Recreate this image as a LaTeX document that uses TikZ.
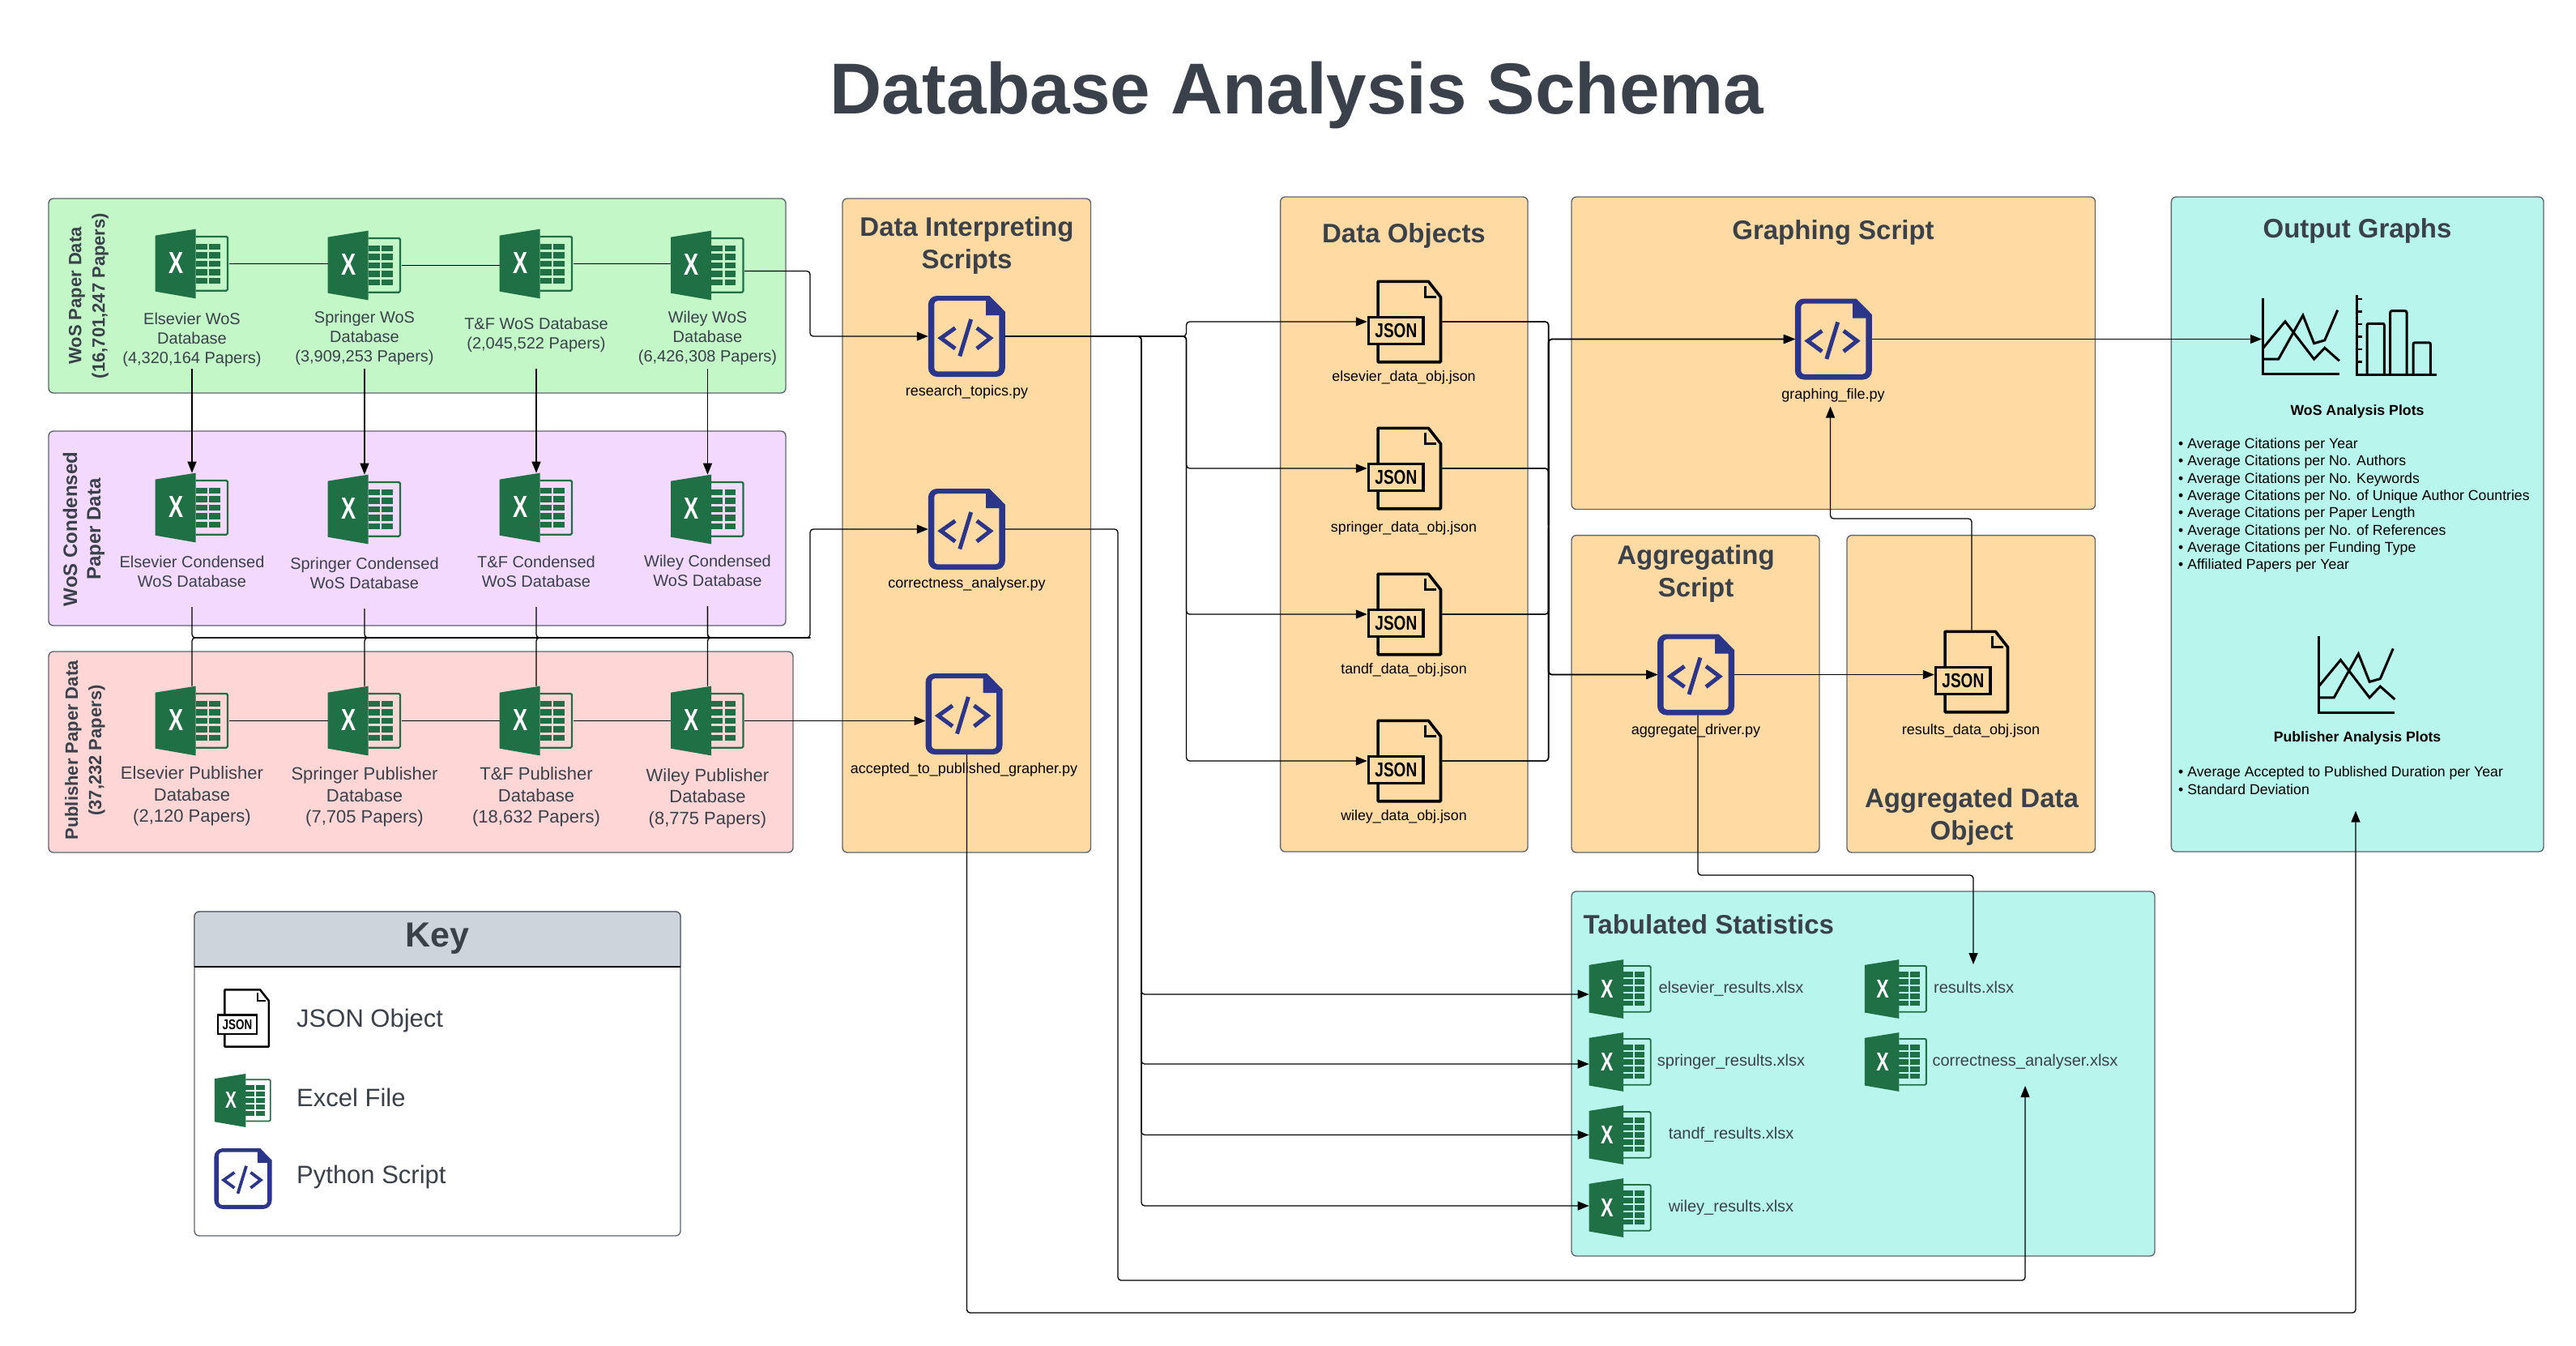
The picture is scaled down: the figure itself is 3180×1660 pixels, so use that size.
\documentclass[tikz,border=0pt]{standalone}
\usepackage{fontspec}
\setmainfont{Liberation Sans}
\usetikzlibrary{arrows.meta}
\definecolor{txt}{HTML}{3A414A}
\definecolor{grn}{HTML}{C3F7C8}
\definecolor{pur}{HTML}{F2D9FD}
\definecolor{pnk}{HTML}{FFD6D6}
\definecolor{org}{HTML}{FFDBA3}
\definecolor{teal}{HTML}{B8F5ED}
\definecolor{hdr}{HTML}{CED4DB}
\definecolor{xlg}{HTML}{1F7044}
\definecolor{pyb}{HTML}{2B3589}
\definecolor{bord}{HTML}{5E6670}
\tikzset{
 panel/.style={draw=bord,line width=1.4pt,rounded corners=6pt},
 conn/.style={draw=black,line width=1.3pt,rounded corners=4pt},
 arr/.style={conn,-{Triangle[length=14pt,width=11pt]}},
 iconbox/.style={inner sep=0pt,outer sep=0pt},
 t/.style={text=txt,align=center,inner sep=0pt,yshift=-2.5pt,font=\fontsize{#1}{\dimexpr#1pt*12/10\relax}\selectfont},
 tb/.style={text=black,align=center,inner sep=0pt,yshift=-2.5pt,font=\fontsize{#1}{\dimexpr#1pt*12/10\relax}\selectfont},
 head/.style={text=txt,align=center,inner sep=0pt,yshift=-2.5pt,font=\bfseries\fontsize{#1}{40}\selectfont},
 side/.style={text=txt,align=center,inner sep=0pt,rotate=90,yshift=-3pt,font=\bfseries\fontsize{#1}{29}\selectfont},
 blist/.style={text=black,align=left,anchor=west,inner sep=0pt,yshift=-1pt,font=\fontsize{17.7}{21.35}\selectfont},
}
\newcommand{\xlicon}[4]{%
 \node[iconbox,minimum width=#4*91pt,minimum height=#4*85.7pt] (#1) at (#2,#3) {};
 \begin{scope}[shift={(#1.north west)},scale=#4]
  \fill[xlg] (0,8)--(50,0)--(50,85.7)--(0,77)--cycle;
  \draw[xlg,line width=#4*2.2pt,rounded corners=1.5pt] (50,9.3)--(89.5,9.3)--(89.5,76)--(50,76);
  \foreach \ya/\yb in {18/25.6,28.3/36,39/46.6,49.6/57.3,60/67.3}{
   \fill[xlg] (50,\ya) rectangle (64,\yb);
   \fill[xlg] (66.5,\ya) rectangle (80,\yb);
  }
  \node[transform shape,inner sep=0pt,text=white,xscale=.72,font=\bfseries\fontsize{37.7}{38}\selectfont] (#1x) at (26,42.3) {X};
 \end{scope}}
\newcommand{\pyicon}[4]{%
 \node[iconbox,minimum width=#4*95pt,minimum height=#4*100pt] (#1) at (#2,#3) {};
 \begin{scope}[shift={(#1.north west)},scale=#4]
  \fill[pyb,even odd rule] (0,50) [rounded corners=11pt] -- (0,0) -- (60,0) [sharp corners] -- (75.6,0) -- (95,19.6) -- (95,50) [rounded corners=11pt] -- (95,100) -- (0,100) -- cycle
   [sharp corners] (7.5,50) [rounded corners=4pt] -- (7.5,6.2) [sharp corners] -- (71.2,6.2) -- (71.2,24.1) -- (87.5,24.1) [rounded corners=4pt] -- (87.5,93.3) -- (7.5,93.3) -- cycle;
  \draw[pyb,line width=#4*5pt] (33.4,39.7)--(15.7,52.2)--(33.4,65.2);
  \draw[pyb,line width=#4*5pt] (60,39.7)--(76.7,52.2)--(60,65.2);
  \draw[pyb,line width=#4*5pt] (52.9,29)--(39,74.5);
 \end{scope}}
\newcommand{\jsicon}[4]{%
 \node[iconbox,minimum width=#4*92.5pt,minimum height=#4*103pt] (#1) at (#2,#3) {};
 \begin{scope}[shift={(#1.north west)},scale=#4]
  \draw[black,line width=#4*3.6pt,line join=round] (13.4,45)--(13.4,1.8)--(75.6,1.8)--(90.7,21)--(90.7,101.2)--(13.4,101.2)--(13.4,80);
  \draw[black,line width=#4*3.6pt] (1.8,46)rectangle(69.5,79);
  \draw[black,line width=#4*2.8pt] (71.5,7)--(71.5,21)--(85,21);
  \node[transform shape,inner sep=0pt,text=black,xscale=.77,font=\bfseries\fontsize{24.7}{25}\selectfont] (#1j) at (35.6,62.5) {JSON};
 \end{scope}}
\newcommand{\lnchart}[2]{%
 \begin{scope}[shift={(#1,#2)},line width=3pt,black]
  \draw (0,0)--(0,93.7)--(93.9,93.7);
  \draw (0,61.6)--(27,29)--(62.7,75.5)--(75.9,61.6)--(93.9,77.6);
  \draw (0,75.5)--(18.8,75.5)--(49,21.4)--(62.7,56)--(75.9,52.2)--(91.8,15);
 \end{scope}}
\begin{document}
\begin{tikzpicture}[x=1pt,y=-1pt]
\useasboundingbox (0,0) rectangle (3180,1660);
\fill[white] (0,0) rectangle (3180,1660);
% panels
\draw[panel,fill=grn] (60,245) rectangle (970,485);
\draw[panel,fill=pur] (60,532) rectangle (970,772);
\draw[panel,fill=pnk] (60,804) rectangle (979,1052);
\draw[panel,fill=org] (1040,245) rectangle (1346.5,1052);
\draw[panel,fill=org] (1580.6,243) rectangle (1886,1051);
\draw[panel,fill=org] (1940,243) rectangle (2586.5,628.5);
\draw[panel,fill=org] (1940,660.6) rectangle (2246,1052);
\draw[panel,fill=org] (2280,660.6) rectangle (2586.5,1052);
\draw[panel,fill=teal] (2680.4,243) rectangle (3140,1051);
\draw[panel,fill=teal] (1940,1100) rectangle (2660,1550);
% key
\draw[panel,fill=white] (240,1125) rectangle (840,1525);
\draw[draw=bord,line width=1.4pt,fill=hdr] (240,1193) [rounded corners=6pt] -- (240,1125) -- (840,1125) [sharp corners] -- (840,1193) -- cycle;
\draw[black,line width=1.4pt] (240,1193) -- (840,1193);
% title
\node[text=txt,inner sep=0pt,yshift=-7pt,font=\bfseries\fontsize{89}{100}\selectfont] (title) at (1601,110) {Database Analysis Schema};
% side labels
\node[side=22] (sg) at (106.5,365) {WoS Paper Data\\(16,701,247 Papers)};
\node[side=24] (sp) at (100.5,653) {WoS Condensed\\Paper Data};
\node[side=22] (sr) at (102,926) {Publisher Paper Data\\(37,232 Papers)};
% excel row 1
\xlicon{xw1}{237}{325.5}{1}
\xlicon{xw2}{450}{327.5}{1}
\xlicon{xw3}{662}{325.5}{1}
\xlicon{xw4}{873.5}{327.5}{1}
\node[t=20] (lw1) at (237,417) {Elsevier WoS\\Database\\(4,320,164 Papers)};
\node[t=20] (lw2) at (450,415) {Springer WoS\\Database\\(3,909,253 Papers)};
\node[t=20] (lw3) at (662,411) {T\&F WoS Database\\(2,045,522 Papers)};
\node[t=20] (lw4) at (873.5,415) {Wiley WoS\\Database\\(6,426,308 Papers)};
% row 2
\xlicon{xc1}{237}{626.5}{1}
\xlicon{xc2}{450}{628.5}{1}
\xlicon{xc3}{662}{626.5}{1}
\xlicon{xc4}{873.5}{628.5}{1}
\node[t=20] (lc1) at (237,703) {Elsevier Condensed\\WoS Database};
\node[t=20] (lc2) at (450,704.5) {Springer Condensed\\WoS Database};
\node[t=20] (lc3) at (662,703) {T\&F Condensed\\WoS Database};
\node[t=20] (lc4) at (873.5,701.5) {Wiley Condensed\\WoS Database};
% row 3
\xlicon{xp1}{237}{889.5}{1}
\xlicon{xp2}{450}{889.5}{1}
\xlicon{xp3}{662}{889.5}{1}
\xlicon{xp4}{873.5}{889.5}{1}
\node[t=22] (lp1) at (237,980) {Elsevier Publisher\\Database\\(2,120 Papers)};
\node[t=22] (lp2) at (450,981) {Springer Publisher\\Database\\(7,705 Papers)};
\node[t=22] (lp3) at (662,981) {T\&F Publisher\\Database\\(18,632 Papers)};
\node[t=22] (lp4) at (873.5,982.5) {Wiley Publisher\\Database\\(8,775 Papers)};
% scripts
\node[head=33] (h1) at (1193.5,300) {Data Interpreting\\Scripts};
\pyicon{rt}{1193.3}{415}{1}
\pyicon{ca}{1193.3}{653}{1}
\pyicon{ag}{1190}{881}{1}
\node[tb=18] (lrt) at (1193.5,481) {research\_topics.py};
\node[tb=18] (lca) at (1193.5,718.5) {correctness\_analyser.py};
\node[tb=18] (lag) at (1190,947.5) {accepted\_to\_published\_grapher.py};
% data objects
\node[head=33] (h2) at (1733,288) {Data Objects};
\jsicon{j1}{1734}{397}{1}
\jsicon{j2}{1734}{578}{1}
\jsicon{j3}{1734}{758}{1}
\jsicon{j4}{1734}{939}{1}
\node[tb=17.8] (lj1) at (1733,463) {elsevier\_data\_obj.json};
\node[tb=17.8] (lj2) at (1733,649) {springer\_data\_obj.json};
\node[tb=17.8] (lj3) at (1733,824) {tandf\_data\_obj.json};
\node[tb=17.8] (lj4) at (1733,1005.6) {wiley\_data\_obj.json};
% graphing etc
\node[head=33] (h3) at (2263,284.6) {Graphing Script};
\pyicon{gs}{2263.3}{418.5}{1}
\node[tb=18] (lgs) at (2263,485) {graphing\_file.py};
\node[head=33] (h4) at (2093.5,705) {Aggregating\\Script};
\pyicon{ad}{2093.5}{832.5}{1}
\node[tb=18] (lad) at (2093.5,899) {aggregate\_driver.py};
\node[head=33] (h5) at (2434,1005) {Aggregated Data\\Object};
\jsicon{rj}{2434}{829}{1}
\node[tb=18] (lrj) at (2433,899) {results\_data\_obj.json};
% output
\node[head=33] (h6) at (2910,282.5) {Output Graphs};
\lnchart{2793.9}{367.7}
\begin{scope}[line width=3pt,black]
 \draw (2909.8,364)--(2909.8,462.5)--(3007.8,462.5);
 \foreach \yy in {369,384.5,400,415.5,431,446.5}{\draw[line width=2.5pt] (2909.8,\yy)--(2915.5,\yy);}
 \draw[rounded corners=2pt] (2922,462.5)--(2922,399.3)--(2943.3,399.3)--(2943.3,462.5);
 \draw[rounded corners=2pt] (2950.6,462.5)--(2950.6,383.7)--(2971,383.7)--(2971,462.5);
 \draw[rounded corners=2pt] (2979,462.5)--(2979,422.8)--(3000.4,422.8)--(3000.4,462.5);
\end{scope}
\node[tb=17.7,font=\bfseries\fontsize{17.7}{21}\selectfont] (o1) at (2910,505) {WoS Analysis Plots};
\node[blist] (o2) at (2689,622.5) {• Average Citations per Year\\• Average Citations per No. Authors\\• Average Citations per No. Keywords\\• Average Citations per No. of Unique Author Countries\\• Average Citations per Paper Length\\• Average Citations per No. of References\\• Average Citations per Funding Type\\• Affiliated Papers per Year};
\lnchart{2862.4}{785.4}
\node[tb=17.7,font=\bfseries\fontsize{17.7}{21}\selectfont] (o3) at (2910,908.6) {Publisher Analysis Plots};
\node[blist] (o4) at (2689,962) {• Average Accepted to Published Duration per Year\\• Standard Deviation};
% tabulated
\node[head=33,anchor=west] (h7) at (1954.5,1138.5) {Tabulated Statistics};
\xlicon{xe}{2000.3}{1220.5}{.85}
\xlicon{xs}{2000.3}{1310.5}{.85}
\xlicon{xt}{2000.3}{1400.5}{.85}
\xlicon{xy}{2000.3}{1490.5}{.85}
\xlicon{xr}{2340.5}{1220.5}{.85}
\xlicon{xa}{2340.5}{1310.5}{.85}
\node[t=20] (le) at (2137,1217.7) {elsevier\_results.xlsx};
\node[t=20] (ls) at (2137,1308) {springer\_results.xlsx};
\node[t=20] (lt) at (2137,1397.5) {tandf\_results.xlsx};
\node[t=20] (ly) at (2137,1488) {wiley\_results.xlsx};
\node[t=20] (lr) at (2436.6,1216) {results.xlsx};
\node[t=20] (la) at (2500,1308) {correctness\_analyser.xlsx};
% key contents
\node[head=43] (kh) at (540,1156) {Key};
\jsicon{kj}{300.5}{1256.5}{.705}
\xlicon{kx}{300}{1358}{.77}
\pyicon{kp}{300}{1454.5}{.75}
\node[t=31,anchor=west] (k1) at (366,1257) {JSON Object};
\node[t=31,anchor=west] (k2) at (366,1352) {Excel File};
\node[t=31,anchor=west] (k3) at (366,1450) {Python Script};
% connector waypoints
\coordinate (sw1) at (237,455);
\coordinate (sw2) at (450,455);
\coordinate (sw3) at (662,455);
\coordinate (sw4) at (873.5,455);
\coordinate (sc1) at (237,749);
\coordinate (sc2) at (450,751);
\coordinate (sc3) at (662,749);
\coordinate (sc4) at (873.5,748);
\coordinate (bC) at (1000,787);
\coordinate (bR) at (1000,415);
\coordinate (bL) at (1464.5,415);
\coordinate (bT) at (1409,415);
\coordinate (bO) at (1911.6,650);
\coordinate (cor1) at (1380,1580);
\coordinate (tCor) at (2500,1340);
\coordinate (cor2) at (1193.5,1620);
\coordinate (tOut) at (2908,1000.6);
\coordinate (cor3) at (2436,1080);
\coordinate (tRes) at (2436,1190);
\coordinate (cor4) at (2259.5,640);
\coordinate (tGs) at (2259.5,501.5);
\coordinate (tCh) at (2792,418.5);
% row links
\draw[conn] (xw1.east) -- (xw1.east -| xw2.west);
\draw[conn] (xw2.east) -- (xw2.east -| xw3.west);
\draw[conn] (xw3.east) -- (xw3.east -| xw4.west);
\draw[conn] (xp1.east) -- (xp2.west);
\draw[conn] (xp2.east) -- (xp3.west);
\draw[conn] (xp3.east) -- (xp4.west);
% wos to condensed
\draw[arr] (sw1) -- (xc1.north);
\draw[arr] (sw2) -- (xc2.north);
\draw[arr] (sw3) -- (xc3.north);
\draw[arr] (sw4) -- (xc4.north);
% to scripts
\draw[arr] ([yshift=-7pt]xw4.east) -| (bR) -- (rt.west);
\draw[arr] (xp4.east) -- (xp4.east -| ag.west);
\draw[conn] (sc1) |- (bC);
\draw[conn] (sc2) |- (bC);
\draw[conn] (sc3) |- (bC);
\draw[conn] (sc4) |- (bC);
\draw[conn] (xp1.north) |- (bC);
\draw[conn] (xp2.north) |- (bC);
\draw[conn] (xp3.north) |- (bC);
\draw[conn] (xp4.north) |- (bC);
\draw[arr] (sc4) |- (bC) |- (ca.west);
% research topics to json
\draw[arr] (rt.east) -- (bL) |- (j1.west);
\draw[arr] (rt.east) -- (bL) |- (j2.west);
\draw[arr] (rt.east) -- (bL) |- (j3.west);
\draw[arr] (rt.east) -- (bL) |- (j4.west);
\draw[arr] (rt.east) -- (bT) |- ([yshift=-6.5pt]xe.west);
\draw[arr] (rt.east) -- (bT) |- ([yshift=-2.5pt]xs.west);
\draw[arr] (rt.east) -- (bT) |- (xt.west);
\draw[arr] (rt.east) -- (bT) |- ([yshift=2.5pt]xy.west);
% json to scripts
\draw[arr] (j1.east) -| (bO) |- (gs.west);
\draw[arr] (j2.east) -| (bO) |- (gs.west);
\draw[arr] (j3.east) -| (bO) |- (gs.west);
\draw[arr] (j4.east) -| (bO) |- (gs.west);
\draw[arr] (j1.east) -| (bO) |- (ad.west);
\draw[arr] (j2.east) -| (bO) |- (ad.west);
\draw[arr] (j3.east) -| (bO) |- (ad.west);
\draw[arr] (j4.east) -| (bO) |- (ad.west);
% others
\draw[arr] (gs.east) -- (tCh);
\draw[arr] (ad.east) -- (ad.east -| rj.west);
\draw[arr] (rj.north) |- (cor4) -- (tGs);
\draw[arr] ([xshift=2.5pt]ad.south) |- (cor3) -- (tRes);
\draw[arr] (ca.east) -| (cor1) -| (tCor);
\draw[arr] ([xshift=3.5pt]ag.south) |- (cor2) -| (tOut);
\end{tikzpicture}
\end{document}
